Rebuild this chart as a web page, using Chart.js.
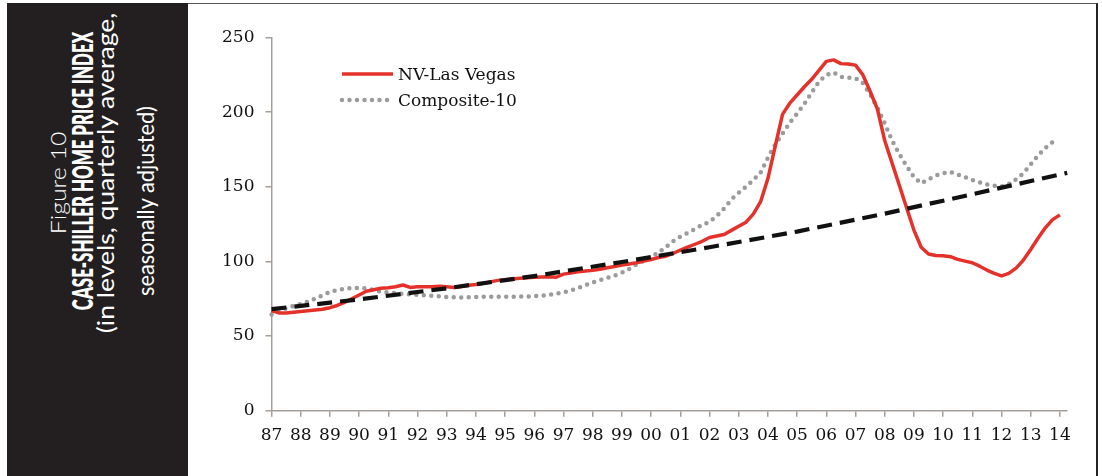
<!DOCTYPE html>
<html>
<head>
<meta charset="utf-8">
<script src="https://cdn.jsdelivr.net/npm/chart.js@4.4.1/dist/chart.umd.min.js"></script>
<style>
  html, body { margin: 0; padding: 0; background: #fff; }
  body { width: 1102px; height: 476px; position: relative; overflow: hidden; }
  #side { position: absolute; left: 7px; top: 3px; width: 181px; height: 473px; background: #231f20; }
  #box { position: absolute; left: 188px; top: 3px; width: 908px; height: 480px;
         border-top: 1.5px solid #555; border-right: 2px solid #222; }
  .vt { position: absolute; white-space: nowrap; color: #fff; font-family: Lato, "Open Sans", sans-serif;
        line-height: 1; transform-origin: 50% 50%; }
  #chart { position: absolute; left: 0; top: 0; z-index: 2; }
</style>
</head>
<body>
<div id="side"></div>
<div id="box"></div>
<div class="vt" data-len="103" style="left:57.5px;top:183px;font-weight:300;font-size:22px">Figure 10</div>
<div class="vt" data-len="278" style="left:81.5px;top:171px;font-weight:800;font-size:28px">CASE-SHILLER HOME PRICE INDEX</div>
<div class="vt" data-len="320" style="left:104.5px;top:173px;font-weight:400;font-size:23px">(in levels, quarterly average,</div>
<div class="vt" data-len="190" style="left:144.5px;top:201px;font-weight:400;font-size:23px">seasonally adjusted)</div>
<canvas id="chart" width="1102" height="476"></canvas>
<script>
// tick labels (one per year)
const years = ['87','88','89','90','91','92','93','94','95','96','97','98','99','00',
               '01','02','03','04','05','06','07','08','09','10','11','12','13','14'];
// quarterly categories, 87Q1 .. 14Q2
const quarters = [];
years.forEach(y => { for (let q = 1; q <= 4; q++) quarters.push(y + 'Q' + q); });
quarters.length = years.length * 4 - 2;

const lasVegas = [
  67, 65.5, 65.5, 66,      66.5, 67, 67.5, 68,      69, 70.5, 72.5, 75,
  77.5, 80, 81, 82,        82.3, 83, 84.2, 82.6,    83, 83, 83, 83.3,
  83, 82.6, 83.2, 84,      84.5, 85.3, 86.3, 87.3,  87.8, 88.3, 88.7, 89.1,
  89.4, 89.6, 89.8, 89.4,  91.5, 92.3, 93, 93.6,    94, 94.8, 95.8, 96.6,
  97.6, 98.3, 99.1, 100.2, 101.3, 102.6, 103.5, 105.3, 107.6, 109.5, 111.5, 113.5,
  116, 117, 118, 120.8,    123.5, 126.3, 131.7, 140, 155.5, 177, 198.5, 206,
  211.5, 217, 222, 228,    234, 235, 232.5, 232.3,  231.5, 225, 214, 202,
  181, 166, 151, 136,      121, 109.5, 105, 104,    103.8, 103.2, 101.4, 100.2,
  99.1, 96.8, 94.2, 92,    90.3, 92, 95.5, 100.9,   108, 115.5, 122.5, 128,
  131.2, null
];

const composite10 = [
  64.5, 66.5, 68.5, 70.2,  71.5, 73, 75.2, 77.3,    79.5, 80.8, 81.7, 82.1,
  82.3, 82, 80.8, 79.8,    79.2, 78.7, 78.3, 78,    77.6, 77.3, 76.9, 76.6,
  76.2, 76, 75.9, 76,      76.1, 76.3, 76.4, 76.4,  76.4, 76.4, 76.4, 76.5,
  76.7, 77, 77.6, 78.4,    79.2, 80.5, 82.2, 84.2,  86, 87.5, 89, 90.5,
  92.5, 95, 98, 100.5,     103, 106, 109.5, 113.5,  116.6, 119, 121.6, 124.5,
  126.5, 130.5, 135.5, 141.5, 146, 150, 154.5, 159.5, 169.5, 178.2, 185.5, 193,
  199, 205.5, 213.2, 220.5, 225, 226.5, 223.6, 223, 222.8, 219.5, 212, 203,
  192.5, 181, 172, 164,    156.5, 152.3, 155, 157.5, 159, 160, 158.2, 156.5,
  154.5, 153, 151.5, 150.7, 150.2, 151.8, 155, 159, 165, 171, 176, 180,
  null, null
];

// long-run trend, read at a few quarters
const trendAt     = ['87Q1', '90Q1', '93Q1', '96Q1', '99Q1', '02Q1', '05Q1', '08Q1', '11Q1', '14Q2'];
const trendValues = [68, 74.6, 82, 90.2, 99.6, 109.5, 120, 132, 145, 159.3];

const yTicks = [0, 50, 100, 150, 200, 250];

// rotated side captions, stretched to the measured length
document.querySelectorAll('.vt').forEach(el => {
  const s = Number(el.dataset.len) / el.offsetWidth;
  el.style.transform = 'translate(-50%,-50%) rotate(-90deg) scale(' + s + ',1)';
});

const axisColor = '#a59d98';
const textColor = '#111';

const insetLegend = {
  id: 'insetLegend',
  afterDraw(chart, args, opts) {
    const ctx = chart.ctx;
    opts.items.forEach((idx, k) => {
      const ds = chart.data.datasets[idx];
      const y = opts.y + k * opts.rowGap;
      ctx.save();
      ctx.strokeStyle = ds.borderColor;
      ctx.lineWidth = ds.borderWidth;
      ctx.setLineDash(ds.borderDash || []);
      ctx.lineCap = ds.borderCapStyle || 'butt';
      ctx.beginPath();
      ctx.moveTo(opts.x, y);
      ctx.lineTo(opts.x + opts.sampleWidth, y);
      ctx.stroke();
      ctx.setLineDash([]);
      ctx.fillStyle = textColor;
      ctx.font = opts.font;
      ctx.textBaseline = 'middle';
      ctx.fillText(ds.label, opts.x + opts.sampleWidth + opts.gap, y + 2);
      ctx.restore();
    });
  }
};

Chart.defaults.font.family = '"DejaVu Serif", serif';

new Chart(document.getElementById('chart'), {
  type: 'line',
  data: {
    labels: quarters,
    datasets: [
      {
        label: 'Trend',
        data: trendAt.map((q, i) => ({ x: q, y: trendValues[i] })),
        borderColor: '#111',
        borderWidth: 4.2,
        borderDash: [15, 8],
        fill: false
      },
      {
        label: 'NV-Las Vegas',
        data: lasVegas,
        borderColor: '#e4322b',
        borderWidth: 3.5,
        borderJoinStyle: 'round',
        fill: false
      },
      {
        label: 'Composite-10',
        data: composite10,
        borderColor: '#9b9b9b',
        borderWidth: 4.5,
        borderDash: [0, 7.5],
        borderCapStyle: 'round',
        fill: false
      }
    ]
  },
  options: {
    responsive: false,
    animation: false,
    layout: { padding: { left: 200, right: 34.8, top: 37.5, bottom: 0 } },
    elements: { point: { radius: 0 }, line: { tension: 0 } },
    plugins: {
      legend: { display: false },
      tooltip: { enabled: false },
      insetLegend: { items: [1, 2], x: 342, y: 74, rowGap: 26, sampleWidth: 51, gap: 5,
                     font: '17px "DejaVu Serif", serif' }
    },
    scales: {
      x: {
        type: 'category',
        grid: { drawOnChartArea: false, tickLength: 6, color: axisColor, lineWidth: 1.5 },
        border: { color: axisColor, width: 1.5 },
        ticks: {
          autoSkip: false, maxRotation: 0, minRotation: 0, padding: 9,
          color: textColor, font: { size: 17 },
          callback: (v, i) => (i % 4 === 0 ? years[i / 4] : null)
        },
        afterFit: s => { s.height = 65.3; }
      },
      y: {
        min: 0, max: 250,
        afterBuildTicks: s => { s.ticks = yTicks.map(v => ({ value: v })); },
        grid: { drawOnChartArea: false, tickLength: 6, color: axisColor, lineWidth: 1.5 },
        border: { color: axisColor, width: 1.5 },
        ticks: { padding: 11, color: textColor, font: { size: 17 } },
        afterFit: s => { s.width = 71.5; }
      }
    }
  },
  plugins: [insetLegend]
});
</script>
</body>
</html>
